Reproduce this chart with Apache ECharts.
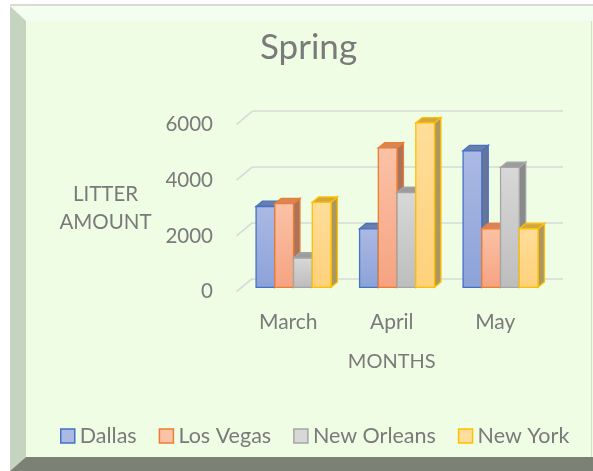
<!DOCTYPE html>
<html>
<head>
<meta charset="utf-8">
<script src="https://cdn.jsdelivr.net/npm/echarts@6/dist/echarts.min.js"></script>
<style>
    html, body { margin: 0; padding: 0; background: #ffffff; }
    #chart { width: 593px; height: 471px; }
</style>
</head>
<body>
<div id="chart"></div>
<script>
// data
const months = ["March", "April", "May"];
const cities = ["Dallas", "Los Vegas", "New Orleans", "New York"];
const dallas = [2900, 2100, 4900];
const losVegas = [3000, 5000, 2100];
const newOrleans = [1050, 3400, 4300];
const newYork = [3050, 5900, 2100];
const yTicks = [0, 2000, 4000, 6000];

const textColor = "#7a7a7a";
const font = "Lato";

// face colours per city: front top, front bottom, border, side, top
const palette = [
    { light: "#abb9e4", dark: "#8ca2d8", border: "#4472c4", side: "#6a7496", top: "#6d7daa" },
    { light: "#fbc2a6", dark: "#f5a381", border: "#ed7d31", side: "#a9735c", top: "#d9855a" },
    { light: "#d8d8d8", dark: "#bdbdbd", border: "#a5a5a5", side: "#8a8a8a", top: "#9c9c9c" },
    { light: "#ffdd9a", dark: "#ffd17a", border: "#ffc000", side: "#ad9760", top: "#d1a73e" }
];

// fake 3d: front plane -> back wall offset, bar depth placement
const WALL = [16, -13.4];
const BAR_OFF = [5.3, -4.4];
const BAR_DEPTH = [6.4, -5.3];
const BAR_FRAC = 0.181;

function barRenderer(idx) {
    const c = palette[idx];
    return function (params, api) {
        const cat = api.value(0);
        const base = api.coord([cat, 0]);
        const top = api.coord([cat, api.value(1)]);
        const band = api.size([1, 0])[0];
        const bw = band * BAR_FRAC;
        const x0 = base[0] - 2 * bw + idx * bw + BAR_OFF[0];
        const yb = base[1] + BAR_OFF[1];
        const yt = top[1] + BAR_OFF[1];
        const dx = BAR_DEPTH[0], dy = BAR_DEPTH[1];
        const stroke = { stroke: c.border, lineWidth: 1.3 };
        return {
            type: "group",
            children: [
                {
                    type: "polygon",
                    shape: { points: [[x0 + bw, yt], [x0 + bw + dx, yt + dy], [x0 + bw + dx, yb + dy], [x0 + bw, yb]] },
                    style: Object.assign({ fill: c.side }, stroke)
                },
                {
                    type: "polygon",
                    shape: { points: [[x0, yt], [x0 + dx, yt + dy], [x0 + bw + dx, yt + dy], [x0 + bw, yt]] },
                    style: Object.assign({ fill: c.top }, stroke)
                },
                {
                    type: "rect",
                    shape: { x: x0, y: yt, width: bw, height: yb - yt },
                    style: Object.assign({
                        fill: new echarts.graphic.LinearGradient(0, 0, 0, 1, [
                            { offset: 0, color: c.light },
                            { offset: 1, color: c.dark }
                        ])
                    }, stroke)
                }
            ]
        };
    };
}

function wallDiagonal(params, api) {
    const p = api.coord([0, api.value(1)]);
    const band = api.size([1, 0])[0];
    const x = p[0] - band / 2;
    return {
        type: "line",
        shape: { x1: x, y1: p[1], x2: x + WALL[0], y2: p[1] + WALL[1] },
        style: { stroke: "#d8d8d8", lineWidth: 1.6 }
    };
}

const seriesValues = [dallas, losVegas, newOrleans, newYork];

let myChart = echarts.init(document.getElementById("chart"));

let option = {
    animation: false,
    backgroundColor: "#ffffff",
    graphic: [
        { type: "rect", z: -10, shape: { x: 10, y: 4, width: 583, height: 2 }, style: { fill: "#d9d9d9" } },
        { type: "rect", z: -10, shape: { x: 10, y: 6, width: 583, height: 465 }, style: { fill: "#effde5" } },
        { type: "polygon", z: -9, shape: { points: [[10, 6], [593, 6], [593, 21], [26, 21]] }, style: { fill: "#f4fef0" } },
        { type: "polygon", z: -9, shape: { points: [[10, 6], [26, 21], [26, 457], [10, 471]] }, style: { fill: "#c5d4bf" } },
        { type: "polygon", z: -9, shape: { points: [[10, 471], [26, 457], [593, 457], [593, 471]] }, style: { fill: "#7b8275" } },
        { type: "rect", z: -9, shape: { x: 591, y: 21, width: 1, height: 436 }, style: { fill: "#d3dfcc" } }
    ],
    title: {
        text: "Spring",
        left: 260,
        top: 27,
        padding: 0,
        textStyle: { fontFamily: font, fontSize: 35, fontWeight: "normal", color: textColor, lineHeight: 42 }
    },
    legend: {
        left: 60,
        top: 425,
        padding: 0,
        itemWidth: 14,
        itemHeight: 14,
        itemGap: 22,
        icon: "rect",
        textStyle: { fontFamily: font, fontSize: 21.5, color: textColor, lineHeight: 20 },
        data: cities.map((name, i) => ({
            name: name,
            itemStyle: { color: palette[i].light, borderColor: palette[i].border, borderWidth: 1.5 }
        }))
    },
    grid: [
        // front plane (labels)
        { left: 236.5, top: 124.5, width: 310.5, height: 167.2 },
        // back wall (grid lines)
        { left: 252.5, top: 111.1, width: 310.5, height: 167.2 }
    ],
    xAxis: [
        {
            gridIndex: 0,
            type: "category",
            data: months,
            axisLine: { show: false },
            axisTick: { show: false },
            axisLabel: { margin: 21, fontFamily: font, fontSize: 21, color: textColor, lineHeight: 20 },
            name: "MONTHS",
            nameLocation: "middle",
            nameGap: 60,
            nameTextStyle: { fontFamily: font, fontSize: 20, color: textColor, lineHeight: 20 }
        },
        {
            gridIndex: 1,
            type: "category",
            data: months,
            show: false
        }
    ],
    yAxis: [
        {
            gridIndex: 0,
            type: "value",
            min: 0,
            max: 6000,
            interval: 2000,
            splitLine: { show: false },
            axisLine: { show: false },
            axisTick: { show: false },
            axisLabel: {
                margin: 23.5, fontFamily: font, fontSize: 20.5, color: textColor,
                padding: [3, 0, 0, 0], formatter: v => String(v)
            },
            name: "LITTER\nAMOUNT",
            nameLocation: "middle",
            nameRotate: 0,
            nameGap: 131,
            nameTextStyle: {
                fontFamily: font, fontSize: 20.5, color: textColor, lineHeight: 28,
                align: "center", verticalAlign: "middle"
            }
        },
        {
            gridIndex: 1,
            type: "value",
            min: 0,
            max: 6000,
            interval: 2000,
            axisLine: { show: false },
            axisTick: { show: false },
            axisLabel: { show: false },
            splitLine: { show: true, lineStyle: { color: "#d8d8d8", width: 1.6 } }
        }
    ],
    series: [
        {
            type: "custom",
            xAxisIndex: 0,
            yAxisIndex: 0,
            silent: true,
            z: 1,
            renderItem: wallDiagonal,
            data: yTicks.map(v => [0, v])
        }
    ].concat(cities.map((name, i) => ({
        name: name,
        type: "custom",
        xAxisIndex: 0,
        yAxisIndex: 0,
        z: 2,
        itemStyle: { color: palette[i].light, borderColor: palette[i].border },
        encode: { x: 0, y: 1 },
        renderItem: barRenderer(i),
        data: seriesValues[i].map((v, j) => [j, v])
    })))
};

myChart.setOption(option);
</script>
</body>
</html>
